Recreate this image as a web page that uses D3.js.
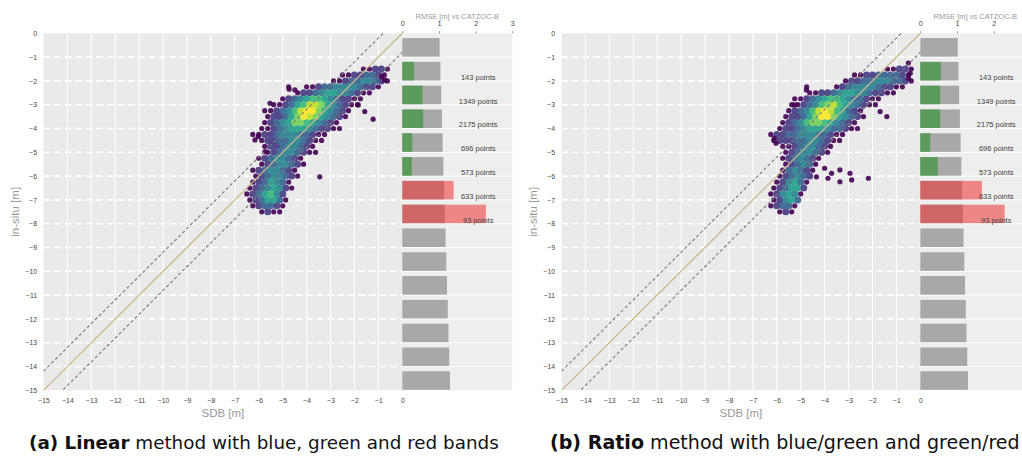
<!DOCTYPE html>
<html>
<head>
<meta charset="utf-8">
<script src="https://cdn.jsdelivr.net/npm/d3@7"></script>
<style>
  body { margin: 0; background: #fff; }
  svg { display: block; }
  text { font-family: "Liberation Sans", Arial, sans-serif; }
</style>
</head>
<body>
<svg id="fig" width="1022" height="463"></svg>
<script>
// ---- axis ticks ----
const sdbTicks = [-15, -14, -13, -12, -11, -10, -9, -8, -7, -6, -5, -4, -3, -2, -1, 0];
const insituTicks = [0, -1, -2, -3, -4, -5, -6, -7, -8, -9, -10, -11, -12, -13, -14, -15];
const rmseTicks = [0, 1, 2, 3];

// ---- per 1 m depth bin: CATZOC-B tolerance, RMSE of each method, sample counts ----
const depthBins = [0, 1, 2, 3, 4, 5, 6, 7, 8, 9, 10, 11, 12, 13, 14];
const catzocB = [1.02, 1.04, 1.06, 1.08, 1.10, 1.12, 1.14, 1.16, 1.18, 1.20, 1.22, 1.24, 1.26, 1.28, 1.30];
const rmseLinear = [null, 0.32, 0.55, 0.57, 0.27, 0.26, 1.40, 2.28, null, null, null, null, null, null, null];
const rmseRatio = [null, 0.56, 0.54, 0.54, 0.27, 0.48, 1.68, 2.30, null, null, null, null, null, null, null];
const pointCounts = [null, 143, 1349, 2175, 696, 573, 633, 93, null, null, null, null, null, null, null];

// tolerance band around the 1:1 line
const diagOffsets = [0.8, -0.8];

// ---- point density of SDB vs in-situ, 0.25 m cells: [in-situ, first SDB, density digits 0-9] ----
const densityLinear = [
  [-1.50, -1.625, "11221"],
  [-1.75, -2.500, "11223321"],
  [-2.00, -2.875, "1123344321"],
  [-2.25, -4.750, "1001123344443221"],
  [-2.50, -4.375, "1223455443211"],
  [-2.75, -5.000, "12345665432211"],
  [-3.00, -5.375, "112356887543211"],
  [-3.25, -5.750, "112346899754321"],
  [-3.50, -5.625, "12235798754321"],
  [-3.75, -5.750, "1234577654321"],
  [-4.00, -5.875, "11234555432211"],
  [-4.25, -6.250, "1122344433211"],
  [-4.50, -5.875, "12233443211"],
  [-4.75, -5.750, "122344321"],
  [-5.00, -5.625, "123443211"],
  [-5.25, -6.000, "12344321"],
  [-5.50, -5.875, "12344321"],
  [-5.75, -6.250, "12344321"],
  [-6.00, -6.125, "12344321"],
  [-6.25, -6.250, "1235431"],
  [-6.50, -6.375, "12345421"],
  [-6.75, -6.500, "1235642"],
  [-7.00, -6.375, "1235531"],
  [-7.25, -6.250, "123321"],
  [-7.50, -5.875, "1211"]
];
const outliersLinear = [
  [-4.73, -2.35], [-4.49, -2.38], [-5.53, -2.94], [-3.45, -6.03], [-1.22, -3.61],
  [-1.57, -3.29], [-0.87, -1.82], [-0.73, -1.96], [-6.02, -4.34], [-6.16, -4.48],
  [-5.74, -4.97], [-1.84, -3.01]
];

const densityRatio = [
  [-1.25, -0.500, "1"],
  [-1.50, -1.375, "11221"],
  [-1.75, -2.750, "1122333321"],
  [-2.00, -3.125, "122334443321"],
  [-2.25, -4.750, "10000123444432211"],
  [-2.50, -4.625, "112234554432211"],
  [-2.75, -5.250, "112345665433211"],
  [-3.00, -5.375, "112346786543211"],
  [-3.25, -5.500, "1234689865321"],
  [-3.50, -5.625, "12235799754321"],
  [-3.75, -5.750, "1234677654321"],
  [-4.00, -5.875, "12234555433211"],
  [-4.25, -6.250, "1223344433211"],
  [-4.50, -6.125, "122233443211"],
  [-4.75, -5.750, "112344321"],
  [-5.00, -5.625, "12344321"],
  [-5.25, -5.750, "1234321"],
  [-5.50, -5.625, "123431"],
  [-5.75, -5.750, "134321"],
  [-6.00, -5.875, "123432"],
  [-6.25, -6.000, "124531"],
  [-6.50, -6.125, "123552"],
  [-6.75, -6.250, "124541"],
  [-7.00, -6.125, "12453"],
  [-7.25, -6.250, "12331"],
  [-7.50, -5.875, "121"]
];
const outliersRatio = [
  [-4.00, -5.67], [-3.71, -5.88], [-3.86, -6.09], [-3.36, -6.24], [-2.94, -5.88],
  [-2.87, -6.16], [-2.17, -6.09], [-3.36, -5.74], [-4.34, -6.03], [-1.68, -3.29],
  [-1.40, -3.50], [-4.76, -2.38], [-5.26, -3.01], [-6.10, -4.41], [-6.03, -4.62],
  [-0.42, -1.68], [-0.49, -1.89]
];

const panels = [
  { dx: 0,   rmse: rmseLinear, density: densityLinear, outliers: outliersLinear,
    caption: [["(a) Linear", true], [" method with blue, green and red bands", false]], capX: 29 },
  { dx: 518, rmse: rmseRatio,  density: densityRatio,  outliers: outliersRatio,
    caption: [["(b) Ratio", true], [" method with blue/green and green/red", false]], capX: 550 }
];

const pageWidth = 1022;

// ---- scales ----
const x = d3.scaleLinear().domain([-15, 0]).range([43.5, 402.3]);
const y = d3.scaleLinear().domain([0, -15]).range([33.3, 390.3]);
const xr = d3.scaleLinear().domain([0, 3]).range([402.3, 512.3]);
const cellStep = 0.25;
// density level 1..9 onto viridis, stretched a little toward the green end
const densColor = d3.scalePow().exponent(0.75).domain([1, 9]).range([0, 1]);
const dens = d => d3.interpolateViridis(densColor(d));

const svg = d3.select("#fig");

function cells(rows) {
  const out = [];
  rows.forEach(([yy, x0, s]) => {
    [...s].forEach((ch, k) => {
      const d = +ch;
      if (d > 0) out.push({ x: x0 + k * cellStep, y: yy, d });
    });
  });
  return out.sort((a, b) => a.d - b.d);
}

panels.forEach((p, pi) => {
  const g = svg.append("g").attr("transform", `translate(${p.dx},0)`);

  // plot backgrounds
  g.append("rect")
    .attr("x", x(-15)).attr("y", y(0))
    .attr("width", x(0) - x(-15)).attr("height", y(-15) - y(0))
    .attr("fill", "#eaeaea");
  g.append("rect")
    .attr("x", xr(0)).attr("y", y(0))
    .attr("width", xr(3) - xr(0)).attr("height", y(-15) - y(0))
    .attr("fill", "#eeeeee");

  // grid
  g.append("g").selectAll("line").data(sdbTicks.slice(1, -1)).join("line")
    .attr("x1", d => x(d)).attr("x2", d => x(d))
    .attr("y1", y(0)).attr("y2", y(-15))
    .attr("stroke", "#fff").attr("stroke-width", 1);
  g.append("g").selectAll("line").data(insituTicks.slice(1, -1)).join("line")
    .attr("x1", x(-15)).attr("x2", x(0))
    .attr("y1", d => y(d)).attr("y2", d => y(d))
    .attr("stroke", "#fff").attr("stroke-width", 1.6)
    .attr("stroke-dasharray", "7,3.5");
  g.append("g").selectAll("line").data(insituTicks.slice(1, -1)).join("line")
    .attr("x1", xr(0)).attr("x2", xr(3))
    .attr("y1", d => y(d)).attr("y2", d => y(d))
    .attr("stroke", "#fff").attr("stroke-width", 1);

  // density scatter
  g.append("g").selectAll("circle").data(cells(p.density)).join("circle")
    .attr("cx", d => x(d.x)).attr("cy", d => y(d.y))
    .attr("r", d => d.d === 1 ? 2.6 : 3.5)
    .attr("fill", d => dens(d.d))
    .attr("fill-opacity", 0.9);
  g.append("g").selectAll("circle").data(p.outliers).join("circle")
    .attr("cx", d => x(d[0])).attr("cy", d => y(d[1]))
    .attr("r", 2.6)
    .attr("fill", dens(1)).attr("fill-opacity", 0.9);

  // 1:1 line and tolerance band
  const clipId = "main-clip-" + pi;
  g.append("clipPath").attr("id", clipId).append("rect")
    .attr("x", x(-15)).attr("y", y(0))
    .attr("width", x(0) - x(-15)).attr("height", y(-15) - y(0));
  const lines = g.append("g").attr("clip-path", `url(#${clipId})`);
  lines.selectAll("line.band").data(diagOffsets).join("line")
    .attr("class", "band")
    .attr("x1", x(-16)).attr("y1", d => y(-16 + d))
    .attr("x2", x(1)).attr("y2", d => y(1 + d))
    .attr("stroke", "#7a7a7a").attr("stroke-width", 1.1)
    .attr("stroke-dasharray", "3.2,2.4");
  lines.append("line")
    .attr("x1", x(-16)).attr("y1", y(-16))
    .attr("x2", x(1)).attr("y2", y(1))
    .attr("stroke", "#c8b88a").attr("stroke-width", 1.3);

  // RMSE bars per depth bin
  const bars = g.append("g");
  bars.selectAll("rect.tol").data(depthBins).join("rect")
    .attr("class", "tol")
    .attr("x", xr(0)).attr("y", i => y(-(i + 0.2)))
    .attr("width", i => xr(catzocB[i]) - xr(0))
    .attr("height", i => y(-(i + 0.98)) - y(-(i + 0.2)))
    .attr("fill", "#a8a8a8");
  const measured = depthBins.filter(i => p.rmse[i] !== null);
  bars.selectAll("rect.rmse").data(measured).join("rect")
    .attr("class", "rmse")
    .attr("x", xr(0)).attr("y", i => y(-(i + 0.2)))
    .attr("width", i => xr(p.rmse[i]) - xr(0))
    .attr("height", i => y(-(i + 0.98)) - y(-(i + 0.2)))
    .attr("fill", i => p.rmse[i] <= catzocB[i] ? "#5c9b5c" : "rgb(240,50,50)")
    .attr("fill-opacity", i => p.rmse[i] <= catzocB[i] ? 1 : 0.55);
  bars.selectAll("text").data(measured).join("text")
    .attr("x", xr(2.07)).attr("y", i => y(-(i + 1)) - 1.2)
    .attr("text-anchor", "middle")
    .attr("font-size", 7.5).attr("fill", "#444")
    .text(i => pointCounts[i] + " points");

  // axes (RMSE ticks that fall past the page edge are left out)
  const visibleRmse = rmseTicks.filter(t => p.dx + xr(t) + 4 < pageWidth);
  const ax = g.append("g").attr("transform", `translate(0,${y(-15)})`)
    .call(d3.axisBottom(x).tickValues(sdbTicks).tickSize(0).tickPadding(7.5));
  const ay = g.append("g").attr("transform", `translate(${x(-15)},0)`)
    .call(d3.axisLeft(y).tickValues(insituTicks).tickSize(0).tickPadding(6.5));
  const at = g.append("g").attr("transform", `translate(0,${y(0)})`)
    .call(d3.axisTop(xr).tickValues(visibleRmse).tickFormat(d3.format("d")).tickSize(2).tickPadding(5));
  [ax, ay, at].forEach(a => {
    a.attr("font-family", null).attr("font-size", null);
    a.select(".domain").remove();
    a.selectAll("text").attr("font-size", 6.8).attr("fill", "#444")
      .style("font-family", "'Liberation Sans', Arial, sans-serif");
    a.selectAll("line").attr("stroke", "#888");
  });
  at.selectAll("text").attr("font-size", 7.2);

  g.append("text")
    .attr("x", xr(1.5)).attr("y", 18.5)
    .attr("text-anchor", "middle")
    .attr("font-size", 7.5).attr("fill", "#999")
    .text("RMSE [m] vs CATZOC-B");
  g.append("text")
    .attr("x", (x(-15) + x(0)) / 2).attr("y", 417.3)
    .attr("text-anchor", "middle")
    .attr("font-size", 11.5).attr("fill", "#999")
    .text("SDB [m]");
  g.append("text")
    .attr("transform", `translate(19,${(y(0) + y(-15)) / 2}) rotate(-90)`)
    .attr("text-anchor", "middle")
    .attr("font-size", 11.5).attr("fill", "#999")
    .text("in-situ [m]");

  // sub-figure caption
  const cap = svg.append("text")
    .attr("x", p.capX).attr("y", 449.3)
    .attr("fill", "#111")
    .style("font-family", "'DejaVu Sans', sans-serif")
    .style("font-size", "16px");
  p.caption.forEach(([s, b]) => cap.append("tspan").attr("font-weight", b ? "bold" : "normal").text(s));
  const w = cap.node().getComputedTextLength();
  cap.style("font-size", (16 * 470 / w) + "px");
});
</script>
</body>
</html>
